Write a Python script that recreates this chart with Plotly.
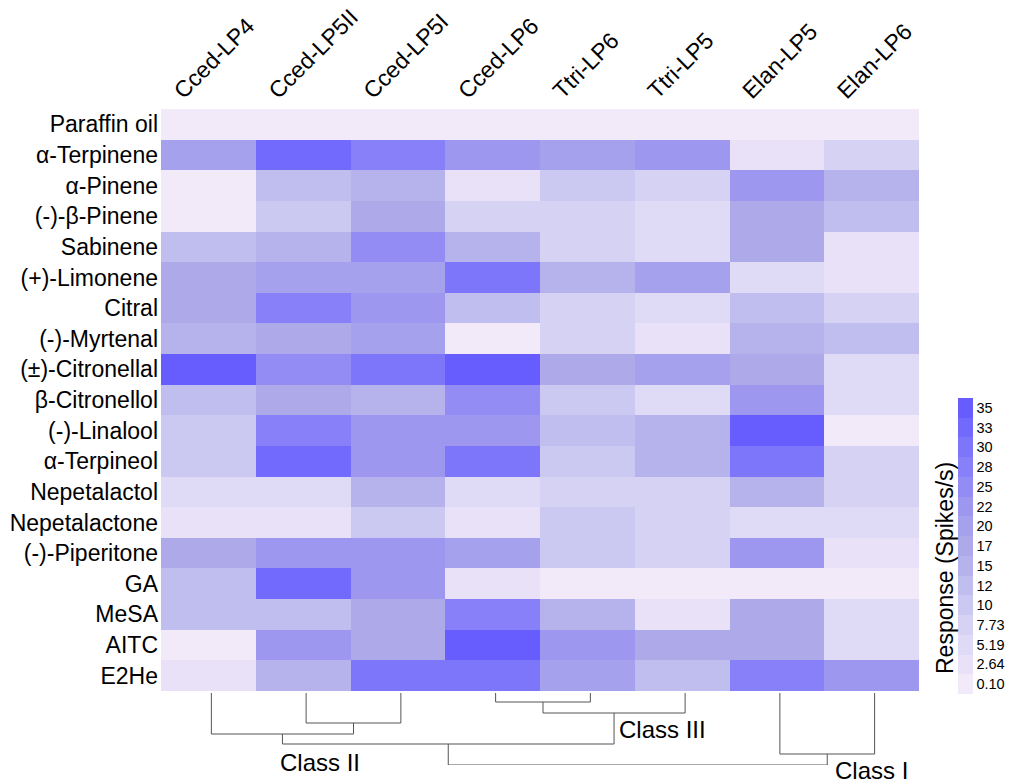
# тепловая карта ответов нейронов и дендрограмма снизу
import plotly.graph_objects as go

# подписи осей
odorants = ['Paraffin oil', 'α-Terpinene', 'α-Pinene', '(-)-β-Pinene', 'Sabinene', '(+)-Limonene', 'Citral',
            '(-)-Myrtenal', '(±)-Citronellal', 'β-Citronellol', '(-)-Linalool', 'α-Terpineol', 'Nepetalactol',
            'Nepetalactone', '(-)-Piperitone', 'GA', 'MeSA', 'AITC', 'E2He']
neurons = ['Cced-LP4', 'Cced-LP5II', 'Cced-LP5I', 'Cced-LP6', 'Ttri-LP6', 'Ttri-LP5', 'Elan-LP5', 'Elan-LP6']

# значения ответа (спайк/с) по строкам
paraffin = [0.1, 0.1, 0.1, 0.1, 0.1, 0.1, 0.1, 0.1]
terpinene = [20, 33, 28, 22, 20, 22, 2.6, 7.7]
pinene_a = [0.1, 12, 15, 2.6, 10, 7.7, 22, 15]
pinene_b = [0.1, 10, 17, 7.7, 7.7, 5.2, 17, 12]
sabinene = [13, 15, 25, 15, 7.7, 5.2, 17, 2.6]
limonene = [17, 20, 20, 30, 15, 20, 5.2, 2.6]
citral = [17, 28, 22, 12, 7.7, 5.2, 12, 7.7]
myrtenal = [15, 17, 20, 0.1, 7.7, 2.6, 15, 12]
citronellal = [35, 25, 30, 35, 17, 20, 17, 5.2]
citronellol = [12, 17, 15, 25, 10, 5.2, 22, 5.2]
linalool = [10, 28, 22, 22, 12, 15, 35, 0.1]
terpineol = [10, 33, 22, 30, 10, 15, 30, 7.7]
nepetalactol = [5.2, 5.2, 15, 5.2, 7.7, 7.7, 15, 7.7]
nepetalactone = [2.6, 2.6, 10, 2.6, 10, 7.7, 5.2, 5.2]
piperitone = [17, 22, 22, 20, 10, 7.7, 22, 2.6]
ga = [12, 33, 22, 2.6, 0.1, 0.1, 0.1, 0.1]
mesa = [12, 12, 17, 28, 15, 2.6, 17, 5.2]
aitc = [0.1, 22, 17, 35, 22, 17, 17, 5.2]
e2he = [2.6, 15, 30, 30, 20, 12, 28, 22]
rows = [paraffin, terpinene, pinene_a, pinene_b, sabinene, limonene, citral, myrtenal, citronellal, citronellol,
        linalool, terpineol, nepetalactol, nepetalactone, piperitone, ga, mesa, aitc, e2he]

# шкала цвета
bar_vals = [0.10, 2.64, 5.19, 7.73, 10.26, 12.8, 15.34, 17.88, 20.42, 22.96, 25.5, 28.04, 30.58, 33.12, 35.66]
bar_text = ['0.10', '2.64', '5.19', '7.73', '10', '12', '15', '17', '20', '22', '25', '28', '30', '33', '35']
bar_colors = ['#f3eaf9', '#e8e1f7', '#dfdaf5', '#d6d2f3', '#cbc8f1', '#c0bdef', '#b6b3ec', '#aeaaea',
              '#a5a1ec', '#9d97f0', '#938cf4', '#8880f8', '#7d76fa', '#726afc', '#675dff']

# дендрограмма: (левый узел, правый узел, расстояние); узлы 0-7 - листья
merges = [(1, 2, 30), (0, 8, 41), (3, 4, 9), (10, 5, 20), (9, 11, 51), (6, 7, 61), (12, 13, 72)]
class_names = ['Class I', 'Class II', 'Class III']

# страница сдвинута на 8 px полями body, размеры считаем от видимого окна
OFF = 8
W, H = 1013 - OFF, 783 - OFF


def px_x(x):
    return (x - OFF) / W


def px_y(y):
    return 1 - (y - OFF) / H


# ступенчатая шкала
step = bar_vals[1] - bar_vals[0]
zmin = bar_vals[0] - step / 2
zmax = bar_vals[-1] + step / 2
scale = []
for i, c in enumerate(bar_colors):
    scale.append([i / len(bar_colors), c])
    scale.append([(i + 1) / len(bar_colors), c])

fig = go.Figure()
fig.add_trace(go.Heatmap(z=rows, x=list(range(len(neurons))), y=list(range(len(odorants))),
                         colorscale=scale, zmin=zmin, zmax=zmax, xaxis='x', yaxis='y',
                         colorbar=dict(thickness=15, lenmode='pixels', len=296, x=px_x(958), xanchor='left',
                                       y=px_y(398), yanchor='top', tickmode='array', tickvals=bar_vals,
                                       ticktext=bar_text, ticks='', outlinewidth=0, xpad=0, ypad=0,
                                       tickfont=dict(size=14.5, color='black'))))

# считаем узлы дендрограммы
node_x = list(range(len(neurons)))
node_h = [0] * len(neurons)
for a, b, h in merges:
    fig.add_trace(go.Scatter(x=[node_x[a], node_x[a], node_x[b], node_x[b]],
                             y=[node_h[a], h, h, node_h[b]],
                             mode='lines', line=dict(color='#555555', width=1),
                             xaxis='x2', yaxis='y2', showlegend=False, hoverinfo='skip'))
    node_x.append((node_x[a] + node_x[b]) / 2)
    node_h.append(h)

fig.update_layout(
    width=W, height=H, margin=dict(l=0, r=0, t=0, b=0, autoexpand=False), plot_bgcolor='white', paper_bgcolor='white',
    font=dict(family='Liberation Sans', color='black'), showlegend=False,
    xaxis=dict(domain=[px_x(161), px_x(919)], range=[-0.5, 7.5], side='top', anchor='y', tickmode='array',
               tickvals=list(range(len(neurons))), ticktext=neurons, tickangle=-45, ticklabelshift=-33,
               ticks='', showgrid=False, zeroline=False, tickfont=dict(size=23)),
    yaxis=dict(domain=[px_y(691), px_y(109)], range=[18.5, -0.5], anchor='x', tickmode='array',
               tickvals=list(range(len(odorants))), ticktext=odorants, ticks='', showgrid=False, zeroline=False,
               ticklabelstandoff=2, tickfont=dict(size=23)),
    xaxis2=dict(domain=[px_x(164), px_x(922)], range=[-0.5, 7.5], anchor='y2', visible=False),
    yaxis2=dict(domain=[px_y(765), px_y(693)], range=[72, 0], anchor='x2', visible=False),
)

# подписи классов и шкалы
fig.add_annotation(text=class_names[2], xref='paper', yref='paper', x=px_x(662), y=px_y(729), xanchor='center',
                   yanchor='middle', showarrow=False, font=dict(size=24))
fig.add_annotation(text=class_names[1], xref='paper', yref='paper', x=px_x(320), y=px_y(762), xanchor='center',
                   yanchor='middle', showarrow=False, font=dict(size=24))
fig.add_annotation(text=class_names[0], xref='paper', yref='paper', x=px_x(871), y=px_y(770), xanchor='center',
                   yanchor='middle', showarrow=False, font=dict(size=24))
fig.add_annotation(text='Response (Spikes/s)', xref='paper', yref='paper', x=px_x(945), y=px_y(568), xanchor='center',
                   yanchor='middle', showarrow=False, textangle=-90, font=dict(size=23))

fig.write_html('out.html')
